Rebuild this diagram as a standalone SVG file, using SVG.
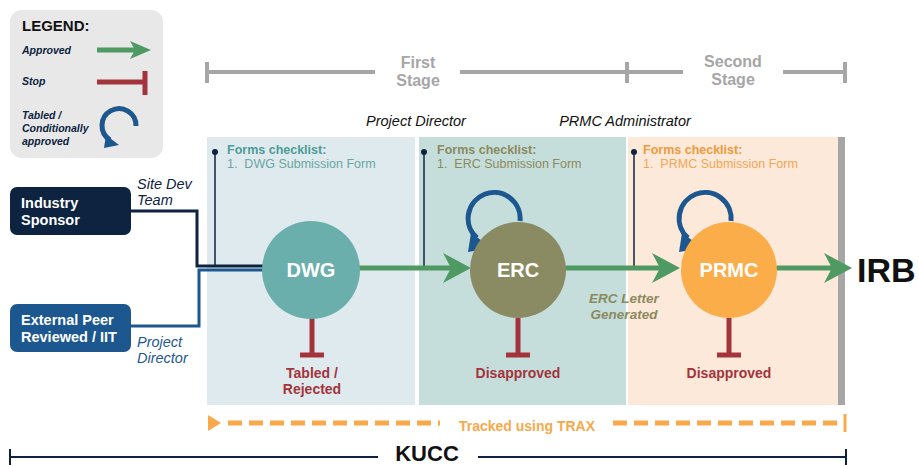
<svg xmlns="http://www.w3.org/2000/svg" width="919" height="466" viewBox="0 0 919 466">
<defs>
<style>
text{font-family:"Liberation Sans",Arial,sans-serif}
.b{font-weight:bold}
.i{font-style:italic}
.stage{fill:#a6a6a6;font-weight:bold;font-size:16px;text-anchor:middle}
.gbar{stroke:#a6a6a6;stroke-width:4;fill:none}
.green{stroke:#4f9a63;stroke-width:5;fill:none}
.greenhead{fill:#4f9a63}
.red{stroke:#a3343b;stroke-width:5;fill:none}
.redt{fill:#a3343b;font-weight:bold;font-size:14px;text-anchor:middle}
.loop{stroke:#1d5790;stroke-width:5;fill:none}
.loophead{fill:#1d5790}
.pin{stroke:#0d2340;stroke-width:1.5}
.node{fill:#fff;font-weight:bold;font-size:20px;text-anchor:middle}
.trax{stroke:#f9a84a;stroke-width:5;fill:none;stroke-dasharray:14 7}
.lg{font-weight:bold;font-style:italic;font-size:10.5px;fill:#0d2340}
.role{font-style:italic;font-size:14.5px}
.ck{font-size:12.5px}
</style>
</defs>

<g id="legend">
<rect x="10" y="10" width="153" height="148" rx="12" fill="#e8e8e8"/>
<text x="22" y="31" class="b" font-size="15" fill="#111">LEGEND:</text>
<text x="22" y="54" class="lg">Approved</text>
<line x1="97" y1="50" x2="138" y2="50" class="green"/>
<polygon points="130,41 151,50 130,59 135,50" class="greenhead"/>
<text x="22" y="85" class="lg">Stop</text>
<line x1="97" y1="82" x2="145" y2="82" class="red"/>
<line x1="145" y1="71" x2="145" y2="95" class="red"/>
<text x="22" y="119" class="lg">Tabled /</text>
<text x="22" y="132" class="lg">Conditionally</text>
<text x="22" y="145" class="lg">approved</text>
<path d="M136,126 A17,17 0 1 0 110,140" class="loop"/>
<polygon points="106,135 119,145 104,148" class="loophead"/>
</g>

<g id="stages">
<line x1="207" y1="72" x2="375" y2="72" class="gbar"/>
<line x1="460" y1="72" x2="627" y2="72" class="gbar"/>
<line x1="207" y1="62" x2="207" y2="83" class="gbar"/>
<line x1="627" y1="62" x2="627" y2="83" class="gbar"/>
<text x="418" y="68" class="stage">First</text>
<text x="418" y="86" class="stage">Stage</text>
<line x1="627" y1="72" x2="683" y2="72" class="gbar"/>
<line x1="783" y1="72" x2="845" y2="72" class="gbar"/>
<line x1="845" y1="62" x2="845" y2="83" class="gbar"/>
<text x="733" y="67" class="stage">Second</text>
<text x="733" y="85" class="stage">Stage</text>
<text x="416" y="126" class="role" fill="#111" text-anchor="middle">Project Director</text>
<text x="625" y="126" class="role" fill="#111" text-anchor="middle">PRMC Administrator</text>
</g>

<g id="panels">
<rect x="207" y="137" width="208" height="268" fill="#dfeaee"/>
<rect x="419" y="137" width="207" height="268" fill="#c5dedb"/>
<rect x="628" y="137" width="210" height="268" fill="#fde9da"/>
<rect x="838" y="137" width="7" height="268" fill="#a6a6a6"/>
</g>

<g id="checklist-dwg">
<line x1="215" y1="152" x2="215" y2="266" class="pin"/>
<circle cx="215" cy="152" r="3" fill="#0d2340"/>
<text x="227" y="154" class="b ck" fill="#4d9c98">Forms checklist:</text>
<text x="227" y="168" class="ck" fill="#6aa5a2">1.&#160;&#160;DWG Submission Form</text>
</g>
<g id="checklist-erc">
<line x1="424" y1="152" x2="424" y2="266" class="pin"/>
<circle cx="424" cy="152" r="3" fill="#0d2340"/>
<text x="437" y="154" class="b ck" fill="#8b8a5e">Forms checklist:</text>
<text x="437" y="168" class="ck" fill="#8b8a5e">1.&#160;&#160;ERC Submission Form</text>
</g>
<g id="checklist-prmc">
<line x1="634" y1="152" x2="634" y2="266" class="pin"/>
<circle cx="634" cy="152" r="3" fill="#0d2340"/>
<text x="643" y="154" class="b ck" fill="#ef9a3c">Forms checklist:</text>
<text x="643" y="168" class="ck" fill="#f2a552">1.&#160;&#160;PRMC Submission Form</text>
</g>

<g id="industry-sponsor">
<rect x="10" y="187" width="121" height="48" rx="7" fill="#0d2340"/>
<text x="21" y="208" class="b" font-size="14.5" fill="#fff">Industry</text>
<text x="21" y="225" class="b" font-size="14.5" fill="#fff">Sponsor</text>
</g>
<g id="external-peer">
<rect x="10" y="304" width="121" height="48" rx="7" fill="#1d5790"/>
<text x="21" y="325" class="b" font-size="14.5" fill="#fff">External Peer</text>
<text x="21" y="342" class="b" font-size="14.5" fill="#fff">Reviewed / IIT</text>
</g>

<g id="connectors">
<polyline points="131,211 197,211 197,266 264,266" fill="none" stroke="#0d2340" stroke-width="3"/>
<polyline points="131,326 199,326 199,270 264,270" fill="none" stroke="#1d5790" stroke-width="3"/>
<text x="137" y="189" class="role" fill="#0d2340">Site Dev</text>
<text x="137" y="205" class="role" fill="#0d2340">Team</text>
<text x="137" y="347" class="role" fill="#1d5790">Project</text>
<text x="137" y="363" class="role" fill="#1d5790">Director</text>
<line x1="358" y1="268" x2="455" y2="268" class="green"/>
<polygon points="443,253 471,268 443,283 451,268" class="greenhead"/>
<line x1="565" y1="268" x2="666" y2="268" class="green"/>
<polygon points="652,253 680,268 652,283 660,268" class="greenhead"/>
<line x1="776" y1="268" x2="838" y2="268" class="green"/>
<polygon points="824,253 852,268 824,283 832,268" class="greenhead"/>
<text x="624" y="303" class="b i" font-size="13.5" fill="#8b8a5e" text-anchor="middle">ERC Letter</text>
<text x="624" y="319" class="b i" font-size="13.5" fill="#8b8a5e" text-anchor="middle">Generated</text>
<line x1="312" y1="318" x2="312" y2="355" class="red"/>
<line x1="300" y1="355" x2="324" y2="355" class="red"/>
<line x1="518" y1="318" x2="518" y2="355" class="red"/>
<line x1="506" y1="355" x2="530" y2="355" class="red"/>
<line x1="729" y1="318" x2="729" y2="355" class="red"/>
<line x1="717" y1="355" x2="741" y2="355" class="red"/>
<path d="M520,221 A26,26 0 1 0 477,238" class="loop"/>
<polygon points="471,233 492,248 468,252" class="loophead"/>
<path d="M731,221 A26,26 0 1 0 688,238" class="loop"/>
<polygon points="682,233 703,248 679,252" class="loophead"/>
</g>

<g id="dwg">
<circle cx="311" cy="270" r="49" fill="#6aafac"/>
<text x="311" y="277" class="node">DWG</text>
<text x="312" y="378" class="redt">Tabled /</text>
<text x="312" y="394" class="redt">Rejected</text>
</g>
<g id="erc">
<circle cx="518" cy="270" r="48" fill="#8b8b63"/>
<text x="518" y="277" class="node">ERC</text>
<text x="518" y="378" class="redt">Disapproved</text>
</g>
<g id="prmc">
<circle cx="729" cy="270" r="48" fill="#fbad4a"/>
<text x="729" y="277" class="node">PRMC</text>
<text x="729" y="378" class="redt">Disapproved</text>
</g>
<g id="irb">
<text x="857" y="282" class="b" font-size="34" fill="#111">IRB</text>
</g>

<g id="trax">
<polygon points="208,415 221,423 208,431" fill="#f9a84a"/>
<line x1="228" y1="423" x2="440" y2="423" class="trax"/>
<line x1="613" y1="423" x2="843" y2="423" class="trax"/>
<line x1="845" y1="414" x2="845" y2="432" stroke="#f9a84a" stroke-width="3"/>
<text x="527" y="431" class="b" font-size="14" fill="#f9a84a" text-anchor="middle">Tracked using TRAX</text>
</g>

<g id="kucc">
<line x1="10" y1="457" x2="378" y2="457" stroke="#0d2340" stroke-width="2"/>
<line x1="478" y1="457" x2="846" y2="457" stroke="#0d2340" stroke-width="2"/>
<line x1="10" y1="449" x2="10" y2="465" stroke="#0d2340" stroke-width="2"/>
<line x1="846" y1="449" x2="846" y2="465" stroke="#0d2340" stroke-width="2"/>
<text x="427" y="461" class="b" font-size="22" fill="#111" text-anchor="middle">KUCC</text>
</g>
</svg>
